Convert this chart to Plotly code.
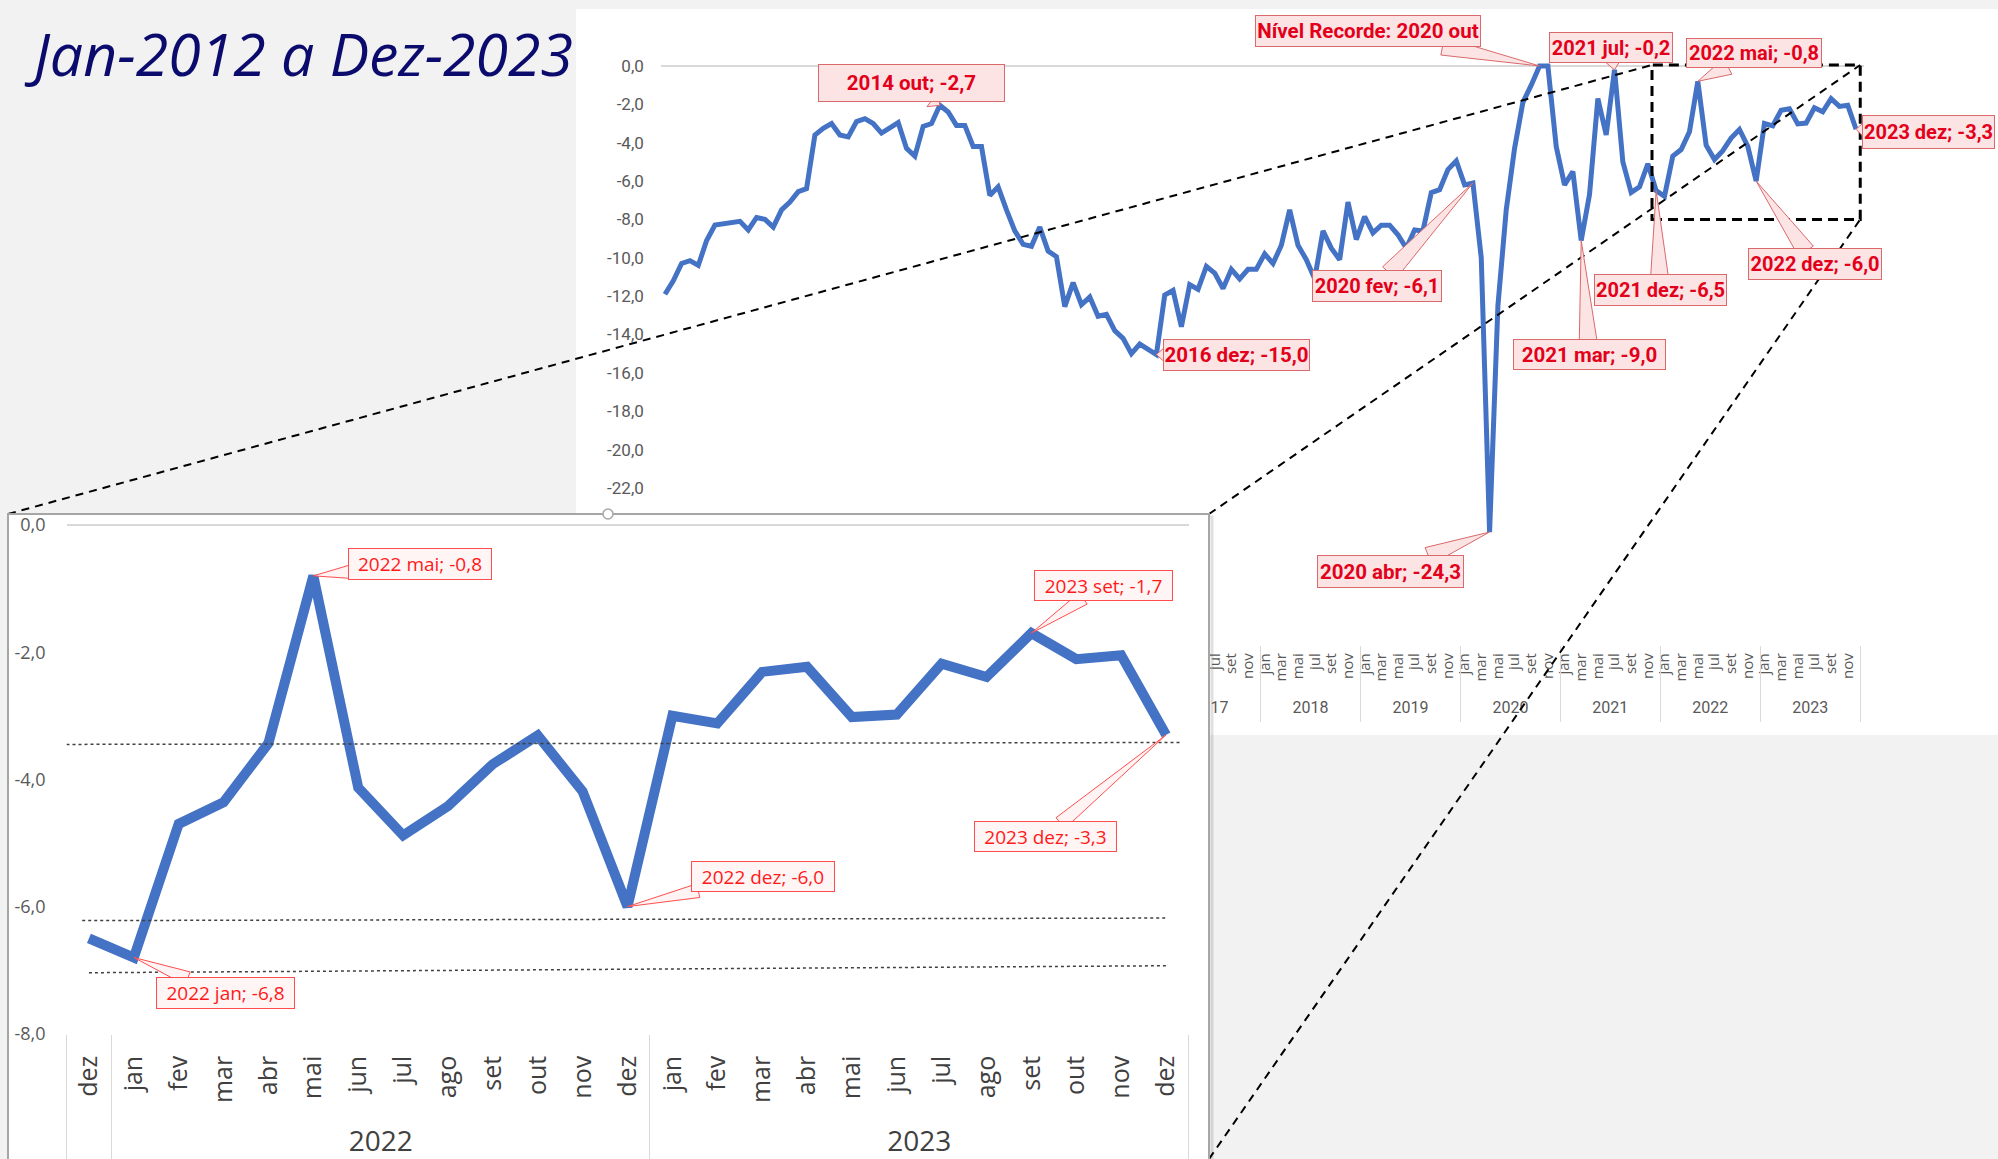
import math
import plotly.graph_objects as go

W, H = 1998, 1159

# ---------------- data ----------------
MONTHS = ['jan', 'fev', 'mar', 'abr', 'mai', 'jun', 'jul', 'ago', 'set', 'out', 'nov', 'dez']
YEARS = list(range(2012, 2024))

V2012 = [-11.9, -11.2, -10.3, -10.15, -10.4, -9.1, -8.3, -8.25, -8.15, -8.1, -8.55, -7.9]
V2013 = [-8.0, -8.4, -7.5, -7.1, -6.55, -6.4, -3.6, -3.25, -3.0, -3.6, -3.7, -2.9]
V2014 = [-2.75, -3.0, -3.5, -3.25, -2.95, -4.3, -4.7, -3.15, -3.0, -2.05, -2.4, -3.1]
V2015 = [-3.1, -4.2, -4.2, -6.75, -6.3, -7.5, -8.6, -9.3, -9.4, -8.4, -9.65, -9.95]
V2016 = [-12.55, -11.3, -12.45, -12.05, -13.05, -12.95, -13.8, -14.2, -15.0, -14.5, -14.8, -15.05]
V2017 = [-11.95, -11.7, -13.6, -11.4, -11.65, -10.45, -10.8, -11.6, -10.6, -11.1, -10.6, -10.6]
V2018 = [-9.8, -10.3, -9.35, -7.5, -9.35, -10.1, -11.1, -8.6, -9.5, -10.1, -7.1, -9.05]
V2019 = [-7.85, -8.7, -8.3, -8.3, -8.8, -9.5, -8.55, -8.6, -6.6, -6.45, -5.4, -4.95]
V2020 = [-6.2, -6.1, -10.0, -24.3, -12.5, -7.5, -4.3, -1.9, -1.0, 0.0, 0.0, -4.2]
V2021 = [-6.2, -5.5, -9.1, -6.7, -1.7, -3.6, -0.2, -5.0, -6.6, -6.3, -5.1, -6.5]
V2022 = [-6.8, -4.7, -4.36, -3.43, -0.8, -4.13, -4.88, -4.42, -3.76, -3.31, -4.19, -6.0]
V2023 = [-3.0, -3.12, -2.31, -2.23, -3.02, -2.98, -2.18, -2.39, -1.7, -2.11, -2.05, -3.3]

SERIES = V2012 + V2013 + V2014 + V2015 + V2016 + V2017 + V2018 + V2019 + V2020 + V2021 + V2022 + V2023

MAIN_Y_TICKS = list(range(0, -31, -2))
INSET_Y_TICKS = list(range(0, -9, -2))
INSET_START = 119  # dez 2021

MAIN_LABEL_IDX = [105, 33, 59, 97, 99, 114, 110, 119, 124, 131, 143]
MAIN_LABEL_TEXT = ['Nível Recorde: 2020 out', '2014 out; -2,7', '2016 dez; -15,0', '2020 fev; -6,1',
                   '2020 abr; -24,3', '2021 jul; -0,2', '2021 mar; -9,0', '2021 dez; -6,5',
                   '2022 mai; -0,8', '2022 dez; -6,0', '2023 dez; -3,3']
INSET_LABEL_IDX = [124, 140, 120, 131, 143]
INSET_LABEL_TEXT = ['2022 mai; -0,8', '2023 set; -1,7', '2022 jan; -6,8', '2022 dez; -6,0', '2023 dez; -3,3']

# dotted reference lines in the zoomed chart: (x0, y0, x1, y1)
INSET_REF_LINES = [(-0.5, -3.45, 24.3, -3.42), (-0.15, -6.22, 24.0, -6.18), (0.0, -7.04, 24.0, -6.93)]

TITLE = 'Jan-2012 a Dez-2023'

# ---------------- layout geometry (pixels) ----------------
MAIN_PX = (660.8, 1864.4, 60.2, 645.2)      # left, right, top, bottom of main plot area
MAIN_XR = (-0.5, 144.0)
MAIN_YR = (-30.2, 0.3)
INSET_PX = (66.5, 1188.5, 521.8, 1033.8)
INSET_XR = (-0.5, 24.5)
INSET_YR = (-8.0, 0.05)
COVER_PX = (8, 1209, 514, 1159)
MAIN_PANEL_PX = (576, 1998, 9, 735)

# label boxes: (center x, center y, width, height, font size) in px
MAIN_BOX = [(1368, 31, 226, 32, 20.5), (911, 83, 187, 38, 20.5), (1236, 355, 147, 32, 20.5),
            (1377, 286, 130, 32, 20), (1390, 571, 147, 33, 20.5), (1611, 48, 124, 31, 20),
            (1589, 354, 153, 31, 20.5), (1660, 290, 133, 32, 20), (1754, 53, 136, 30, 20),
            (1815, 264, 134, 32, 20), (1928, 132, 133, 34, 20)]
INSET_BOX = [(420, 564, 144, 32), (1103, 585, 139, 31), (225, 993, 139, 32), (763, 876, 144, 31),
             (1045, 836, 143, 31)]

BLUE = '#4472C4'
GREY = '#595959'
NARROW = "Roboto, 'Liberation Sans', sans-serif"
REG = "'Open Sans', 'Noto Sans', sans-serif"


def dom(px):
    l, r, t, b = px
    return [l / W, r / W], [1 - b / H, 1 - t / H]


def mapper(px, xr, yr):
    l, r, t, b = px

    def f(x, y):
        X = l + (x - xr[0]) / (xr[1] - xr[0]) * (r - l)
        Y = b - (y - yr[0]) / (yr[1] - yr[0]) * (b - t)
        return X, Y
    return f


def pp(x, y):
    return x / W, 1 - y / H


def fmt(v):
    return f'{v:.1f}'.replace('.', ',')


main_map = mapper(MAIN_PX, MAIN_XR, MAIN_YR)
inset_map = mapper(INSET_PX, INSET_XR, INSET_YR)

fig = go.Figure()

x_main = list(range(len(SERIES)))
fig.add_trace(go.Scatter(x=x_main, y=SERIES, mode='lines', line=dict(color=BLUE, width=5),
                         xaxis='x', yaxis='y', hoverinfo='skip'))
# cover subplot (white panel behind the zoom chart)
fig.add_trace(go.Scatter(x=[0], y=[None], mode='lines', xaxis='x2', yaxis='y2', hoverinfo='skip'))
inset_vals = SERIES[INSET_START:]
inset_x = list(range(len(inset_vals)))
fig.add_trace(go.Scatter(x=inset_x, y=inset_vals, mode='lines', line=dict(color=BLUE, width=10),
                         xaxis='x3', yaxis='y3', hoverinfo='skip'))
# placeholders so the overlaying label / divider axes get drawn
for xa, ya in [('x4', 'y'), ('x5', 'y'), ('x6', 'y3'), ('x7', 'y3')]:
    fig.add_trace(go.Scatter(x=[0], y=[None], mode='lines', xaxis=xa, yaxis=ya, hoverinfo='skip'))

# main axes
mxd, myd = dom(MAIN_PX)
month_ticks = [i for i in x_main if i % 2 == 0]
year_centers = [sum(i for i in x_main if 2012 + i // 12 == y) / 12 for y in YEARS]
year_bounds = [-0.5] + [i + 0.5 for i in x_main if i % 12 == 11]

# inset axes
ixd, iyd = dom(INSET_PX)
inset_years = [2012 + (INSET_START + k) // 12 for k in inset_x]
inset_bounds = [INSET_XR[0]] + [k + 0.5 for k in inset_x[:-1] if inset_years[k] != inset_years[k + 1]] + [INSET_XR[1]]
full_years = [y for y in sorted(set(inset_years)) if inset_years.count(y) == 12]
inset_year_centers = [sum(k for k in inset_x if inset_years[k] == y) / 12 for y in full_years]

cxd, cyd = dom(COVER_PX)

fig.update_layout(
    width=W, height=H, margin=dict(l=0, r=0, t=0, b=0, autoexpand=False),
    paper_bgcolor='#f2f2f2', plot_bgcolor='white', showlegend=False,
    xaxis=dict(domain=mxd, range=list(MAIN_XR), anchor='y', tickmode='array', tickvals=month_ticks,
               ticktext=[MONTHS[i % 12] for i in month_ticks], tickangle=-90, ticks='',
               showgrid=False, zeroline=False, showline=False,
               tickfont=dict(family=REG, size=15, color=GREY), ticklabelstandoff=4),
    yaxis=dict(domain=myd, range=list(MAIN_YR), anchor='x', tickmode='array', tickvals=MAIN_Y_TICKS,
               ticktext=[fmt(v) for v in MAIN_Y_TICKS], ticks='', showgrid=False,
               zeroline=True, zerolinecolor='#d9d9d9', zerolinewidth=1.5, showline=False,
               tickfont=dict(family=NARROW, size=17, color=GREY), ticklabelstandoff=16),
    xaxis4=dict(overlaying='x', anchor='y', range=list(MAIN_XR), tickmode='array', tickvals=year_centers,
                ticktext=[str(y) for y in YEARS], tickangle=0, ticks='', showgrid=False, zeroline=False,
                tickfont=dict(family=NARROW, size=16, color=GREY), ticklabelstandoff=51),
    xaxis5=dict(overlaying='x', anchor='y', range=list(MAIN_XR), tickmode='array', tickvals=year_bounds,
                ticks='outside', ticklen=76, tickcolor='#d9d9d9', tickwidth=1, showticklabels=False,
                showgrid=False, zeroline=False),
    xaxis2=dict(domain=cxd, anchor='y2', range=[0, 1], visible=False, showgrid=False, zeroline=False),
    yaxis2=dict(domain=cyd, anchor='x2', range=[0, 1], visible=False, showgrid=False, zeroline=False),
    xaxis3=dict(domain=ixd, range=list(INSET_XR), anchor='y3', tickmode='array', tickvals=inset_x,
                ticktext=[MONTHS[(INSET_START + k) % 12] for k in inset_x], tickangle=-90, ticks='',
                showgrid=False, zeroline=False, showline=False,
                tickfont=dict(family=REG, size=25, color='#404040'), ticklabelstandoff=16),
    yaxis3=dict(domain=iyd, range=list(INSET_YR), anchor='x3', tickmode='array', tickvals=INSET_Y_TICKS,
                ticktext=[fmt(v) for v in INSET_Y_TICKS], ticks='', showgrid=False,
                zeroline=True, zerolinecolor='#d9d9d9', zerolinewidth=1.5, showline=False,
                tickfont=dict(family=REG, size=18, color=GREY), ticklabelstandoff=20),
    xaxis6=dict(overlaying='x3', anchor='y3', range=list(INSET_XR), tickmode='array',
                tickvals=inset_year_centers, ticktext=[str(y) for y in full_years], tickangle=0, ticks='',
                showgrid=False, zeroline=False, tickfont=dict(family=REG, size=28, color='#404040'),
                ticklabelstandoff=88),
    xaxis7=dict(overlaying='x3', anchor='y3', range=list(INSET_XR), tickmode='array', tickvals=inset_bounds,
                ticks='outside', ticklen=130, tickcolor='#d9d9d9', tickwidth=1, showticklabels=False,
                showgrid=False, zeroline=False),
)

shapes = []
# white panel of the main chart
l, r, t, b = MAIN_PANEL_PX
x0, y0 = pp(l, b)
x1, y1 = pp(r, t)
shapes.append(dict(type='rect', xref='paper', yref='paper', x0=x0, y0=y0, x1=x1, y1=y1,
                   fillcolor='white', line=dict(width=0), layer='below'))

# zoom window on main chart (same range as the inset)
rx0 = INSET_START + INSET_XR[0]
rx1 = INSET_START + INSET_XR[1]
shapes.append(dict(type='rect', xref='x', yref='y', x0=rx0, x1=rx1, y0=INSET_YR[0], y1=INSET_YR[1],
                   line=dict(color='black', width=3, dash='10px,6px'), layer='above'))
tl = main_map(rx0, INSET_YR[1])
tr = main_map(rx1, INSET_YR[1])
br = main_map(rx1, INSET_YR[0])
cl, cr, ct, cb = COVER_PX
for (ax_, ay_), (bx_, by_) in [((cl, ct), tl), ((cr, ct), tr), ((cr, cb), br)]:
    p0 = pp(ax_, ay_)
    p1 = pp(bx_, by_)
    shapes.append(dict(type='line', xref='paper', yref='paper', x0=p0[0], y0=p0[1], x1=p1[0], y1=p1[1],
                       line=dict(color='black', width=2, dash='8px,6px'), layer='above'))

# inset panel border (with a faint shadow)
p0 = pp(cl + 3, cb + 10)
p1 = pp(cr + 3, ct + 3)
shapes.append(dict(type='rect', xref='paper', yref='paper', x0=p0[0], y0=p0[1], x1=p1[0], y1=p1[1],
                   line=dict(color='rgba(0,0,0,0.12)', width=3), fillcolor='rgba(0,0,0,0)', layer='below'))
p0 = pp(cl, cb + 10)
p1 = pp(cr, ct)
shapes.append(dict(type='rect', xref='paper', yref='paper', x0=p0[0], y0=p0[1], x1=p1[0], y1=p1[1],
                   line=dict(color='#a6a6a6', width=2), fillcolor='rgba(0,0,0,0)', layer='above'))
# small handle on top border
hc = pp(608, ct)
shapes.append(dict(type='circle', xref='paper', yref='paper', x0=hc[0] - 5 / W, x1=hc[0] + 5 / W,
                   y0=hc[1] - 5 / H, y1=hc[1] + 5 / H, line=dict(color='#a6a6a6', width=1.5),
                   fillcolor='white', layer='above'))

# dotted reference lines in inset
for (a0, b0, a1, b1) in INSET_REF_LINES:
    shapes.append(dict(type='line', xref='x3', yref='y3', x0=a0, y0=b0, x1=a1, y1=b1,
                       line=dict(color='#404040', width=1.5, dash='dot'), layer='above'))


def wedge(tip, box, hw, fill, color):
    cx, cy, w, h = box[:4]
    dx, dy = tip[0] - cx, tip[1] - cy
    L = math.hypot(dx, dy)
    ux, uy = dx / L, dy / L
    tx = (w / 2) / abs(dx) if dx else 1e9
    ty = (h / 2) / abs(dy) if dy else 1e9
    tt = min(tx, ty)
    px_, py_ = cx + dx * tt - ux * 4, cy + dy * tt - uy * 4
    nx, ny = -uy, ux
    pts = [(px_ + nx * hw, py_ + ny * hw), tip, (px_ - nx * hw, py_ - ny * hw)]
    path = 'M ' + ' L '.join('{:.5f},{:.5f}'.format(*pp(x, y)) for x, y in pts) + ' Z'
    return dict(type='path', xref='paper', yref='paper', path=path, fillcolor=fill,
                line=dict(color=color, width=1), layer='above')


annotations = []
for idx, txt, box in zip(MAIN_LABEL_IDX, MAIN_LABEL_TEXT, MAIN_BOX):
    tip = main_map(idx, SERIES[idx])
    shapes.append(wedge(tip, box, 9, '#fce4e4', '#d9696b'))
    cx, cy, w, h, fs = box
    x_, y_ = pp(cx, cy)
    annotations.append(dict(x=x_, y=y_, xref='paper', yref='paper', text='<b>' + txt + '</b>',
                            showarrow=False, xanchor='center', yanchor='middle', width=w - 2, height=h - 2,
                            bgcolor='#fce4e4', bordercolor='#d9696b', borderwidth=1, borderpad=0,
                            font=dict(family=NARROW, size=fs, color='#e2001a')))

for idx, txt, box in zip(INSET_LABEL_IDX, INSET_LABEL_TEXT, INSET_BOX):
    k = idx - INSET_START
    tip = inset_map(k, SERIES[idx])
    shapes.append(wedge(tip, box, 7, '#fff3f3', '#ff4d4d'))
    cx, cy, w, h = box
    x_, y_ = pp(cx, cy)
    annotations.append(dict(x=x_, y=y_, xref='paper', yref='paper', text=txt,
                            showarrow=False, xanchor='center', yanchor='middle', width=w - 2, height=h - 2,
                            bgcolor='#fff5f5', bordercolor='#ff4d4d', borderwidth=1, borderpad=0,
                            font=dict(family=REG, size=19, color='#ff1a1a')))

tx_, ty_ = pp(298, 53)
annotations.append(dict(x=tx_, y=ty_, xref='paper', yref='paper', text='<i>' + TITLE + '</i>',
                        showarrow=False, xanchor='center', yanchor='middle',
                        font=dict(family=REG, size=59, color='#0b0b6e')))

fig.update_layout(shapes=shapes, annotations=annotations)

fig.write_html("out.html", config={'displayModeBar': False},
               post_script="document.body.style.margin='0';document.body.style.overflow='hidden';")
